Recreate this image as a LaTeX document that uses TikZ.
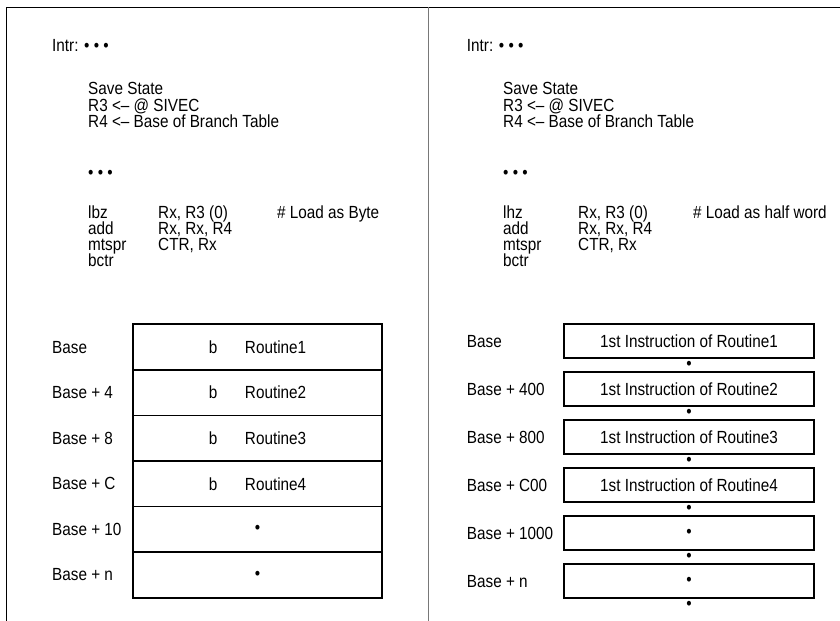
\documentclass[tikz,border=0pt]{standalone}
\usepackage{fontspec}
\setmainfont{Liberation Sans}[FakeStretch=0.87]
\usetikzlibrary{positioning}
\definecolor{FrameGrey}{RGB}{120,120,120}

\begin{document}
\begin{tikzpicture}[x=0.03cm, y=-0.03cm,
  every node/.style={font=\fontsize{15pt}{16pt}\selectfont, inner sep=0pt},
  code/.style={anchor=base west},
  addr/.style={anchor=west},
  slot/.style={draw, line width=1.4pt, outer sep=0pt, minimum width=7.47cm, minimum height=1.367cm},
  entry/.style={draw, line width=1.4pt, outer sep=0pt, minimum width=7.51cm, minimum height=1.02cm}]
  \useasboundingbox (0,0) rectangle (840,621);
  \draw[line width=1.2pt] (6.5,621) -- (6.5,7.5) -- (840,7.5);
  \draw[line width=1.6pt, FrameGrey] (428.5,7.5) -- (428.5,621);

  % byte table
  \node[code] (lintr) at (52,51.7) {Intr: • • •};
  \node[code] (lsave) at (88,95) {Save State};
  \node[code] (lr3) at (88,111.3) {R3 <-- @ SIVEC};
  \node[code] (lr4) at (88,127.6) {R4 <-- Base of Branch Table};
  \node[code] (ldots) at (88,178) {• • •};
  \node[code] (llbz) at (88,218) {lbz};
  \node[code] (ladd) at (88,234) {add};
  \node[code] (lmt) at (88,250) {mtspr};
  \node[code] (lbctr) at (88,266) {bctr};
  \node[code] (llbzop) at (158,218) {Rx, R3 (0)};
  \node[code] (laddop) at (158,234) {Rx, Rx, R4};
  \node[code] (lmtop) at (158,250) {CTR, Rx};
  \node[code] (lnote) at (277,218) {\# Load as Byte};

  \node[slot] (s1) at (257.5,347.1) {b\hspace{0.83cm}Routine1};
  \node[slot, below=0pt of s1] (s2) {b\hspace{0.83cm}Routine2};
  \node[slot, below=0pt of s2] (s3) {b\hspace{0.83cm}Routine3};
  \node[slot, below=0pt of s3] (s4) {b\hspace{0.83cm}Routine4};
  \node[slot, below=0pt of s4] (s5) {•};
  \node[slot, below=0pt of s5] (s6) {•};
  \node[addr] (sa1) at (52,0 |- s1) {Base};
  \node[addr] (sa2) at (52,0 |- s2) {Base + 4};
  \node[addr] (sa3) at (52,0 |- s3) {Base + 8};
  \node[addr] (sa4) at (52,0 |- s4) {Base + C};
  \node[addr] (sa5) at (52,0 |- s5) {Base + 10};
  \node[addr] (sa6) at (52,0 |- s6) {Base + n};

  % half word table
  \node[code] (rintr) at (466.7,51.7) {Intr: • • •};
  \node[code] (rsave) at (503,95) {Save State};
  \node[code] (rr3) at (503,111.3) {R3 <-- @ SIVEC};
  \node[code] (rr4) at (503,127.6) {R4 <-- Base of Branch Table};
  \node[code] (rdots) at (503,178) {• • •};
  \node[code] (rlhz) at (503,218) {lhz};
  \node[code] (radd) at (503,234) {add};
  \node[code] (rmt) at (503,250) {mtspr};
  \node[code] (rbctr) at (503,266) {bctr};
  \node[code] (rlhzop) at (578,218) {Rx, R3 (0)};
  \node[code] (raddop) at (578,234) {Rx, Rx, R4};
  \node[code] (rmtop) at (578,250) {CTR, Rx};
  \node[code] (rnote) at (693,218) {\# Load as half word};

  \node[entry] (e1) at (689,341.3) {1st Instruction of Routine1};
  \node[entry, below=0.42cm of e1] (e2) {1st Instruction of Routine2};
  \node[entry, below=0.42cm of e2] (e3) {1st Instruction of Routine3};
  \node[entry, below=0.42cm of e3] (e4) {1st Instruction of Routine4};
  \node[entry, below=0.42cm of e4] (e5) {•};
  \node[entry, below=0.42cm of e5] (e6) {•};
  \coordinate[below=0.42cm of e6] (e7);
  \path (e1.south) -- node (g1) {•} (e2.north);
  \path (e2.south) -- node (g2) {•} (e3.north);
  \path (e3.south) -- node (g3) {•} (e4.north);
  \path (e4.south) -- node (g4) {•} (e5.north);
  \path (e5.south) -- node (g5) {•} (e6.north);
  \path (e6.south) -- node (g6) {•} (e7);
  \node[addr] (ea1) at (466.7,0 |- e1) {Base};
  \node[addr] (ea2) at (466.7,0 |- e2) {Base + 400};
  \node[addr] (ea3) at (466.7,0 |- e3) {Base + 800};
  \node[addr] (ea4) at (466.7,0 |- e4) {Base + C00};
  \node[addr] (ea5) at (466.7,0 |- e5) {Base + 1000};
  \node[addr] (ea6) at (466.7,0 |- e6) {Base + n};
\end{tikzpicture}
\end{document}
